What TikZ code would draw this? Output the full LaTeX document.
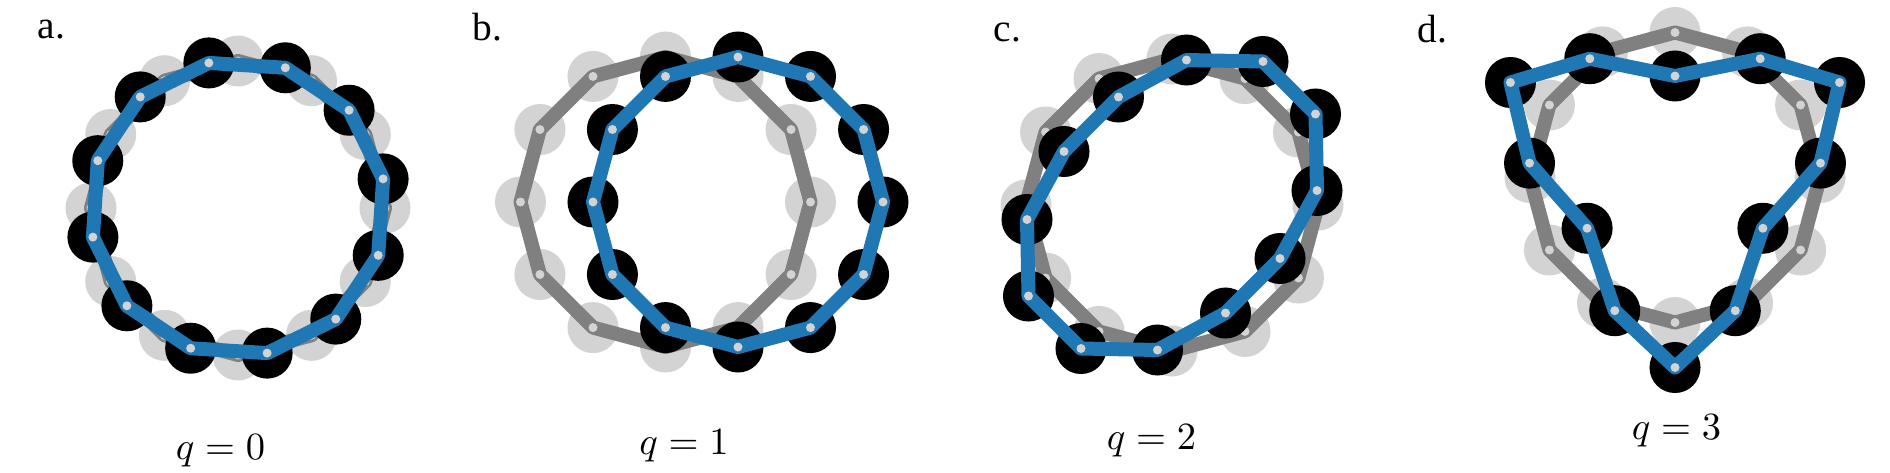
\documentclass[tikz,border=0pt]{standalone}
\usepackage{fontspec}
\newfontfamily\lettfont{Liberation Serif}
\definecolor{ringblue}{HTML}{1F77B4}
\definecolor{ringgray}{HTML}{808080}
\definecolor{beadgray}{HTML}{D3D3D3}
\begin{document}
\begin{tikzpicture}[x=0.01cm,y=-0.01cm,
  graybead/.style={fill=beadgray},
  blackbead/.style={fill=black},
  grayring/.style={draw=ringgray,line width=0.14cm,line join=round},
  bluering/.style={draw=ringblue,line width=0.14cm,line join=round},
  dotfill/.style={fill=beadgray},
  panellabel/.style={font=\lettfont\fontsize{11.2}{13}\selectfont,anchor=base west,inner sep=0pt},
  qlabel/.style={font=\fontsize{11.2}{13}\selectfont,anchor=base,inner sep=0pt}]
\useasboundingbox (0,0) rectangle (1890,472);
\def\rb{0.255cm}
\def\rd{0.045cm}
% ---------- coordinates ----------
\foreach \k in {1,...,12}{
  % panel a
  \coordinate (ag\k) at ({238+147*cos(30*\k)},{208-147*sin(30*\k)});
  \coordinate (ab\k) at ({238+148*cos(30*\k+11.35)},{208-148*sin(30*\k+11.35)});
  % panel b
  \coordinate (bg\k) at ({665.5+145*cos(30*\k)},{202-145*sin(30*\k)});
  \coordinate (bb\k) at ({738+145*cos(30*\k)},{202-145*sin(30*\k)});
  % panel c gray
  \coordinate (cg\k) at ({1172+146*cos(30*\k)},{205-146*sin(30*\k)});
  % panel d gray
  \coordinate (dg\k) at ({1675+145*cos(30*\k)},{177.5-145*sin(30*\k)});
}
% panel c blue
\coordinate (cb1) at (1186.5,60);
\coordinate (cb2) at (1263,61.5);
\coordinate (cb3) at (1315.5,114);
\coordinate (cb4) at (1317,190.5);
\coordinate (cb5) at (1280,258.5);
\coordinate (cb6) at (1225.5,313);
\coordinate (cb7) at (1157.5,350);
\coordinate (cb8) at (1081,348.5);
\coordinate (cb9) at (1028.5,296);
\coordinate (cb10) at (1027,219.5);
\coordinate (cb11) at (1064,151.5);
\coordinate (cb12) at (1118.5,97);
% panel d blue
\foreach \j [evaluate=\j as \rot using {-120*\j}, evaluate=\j as \base using {int(4*\j)}] in {0,1,2}{
  \foreach \a/\r [count=\i from 1] in {90/101.5, 54.35/146.2, 30/190, 5.65/146.2}{
    \pgfmathtruncatemacro{\idx}{\base+\i}
    \coordinate (db\idx) at ({1675+\r*cos(\a+\rot)},{177.5-\r*sin(\a+\rot)});
  }
}
% ---------- drawing ----------
\foreach \p in {a,b,c,d}{
  \foreach \k in {1,...,12}{\fill[graybead] (\p g\k) circle[radius=\rb];}
  \draw[grayring] (\p g1) \foreach \k in {2,...,12}{ -- (\p g\k)} -- cycle;
  \foreach \k in {1,...,12}{\fill[dotfill] (\p g\k) circle[radius=\rd];}
  \foreach \k in {1,...,12}{\fill[blackbead] (\p b\k) circle[radius=\rb];}
  \draw[bluering] (\p b1) \foreach \k in {2,...,12}{ -- (\p b\k)} -- cycle;
  \foreach \k in {1,...,12}{\fill[dotfill] (\p b\k) circle[radius=\rd];}
}
% ---------- labels ----------
\node[panellabel] (la) at (37,38) {a.};
\node[panellabel] (lb) at (472,40) {b.};
\node[panellabel] (lc) at (993,41) {c.};
\node[panellabel] (ld) at (1417,42) {d.};
\node[qlabel] (qa) at (220.5,459) {$q=0$};
\node[qlabel] (qb) at (684,454) {$q=1$};
\node[qlabel] (qc) at (1151.5,449) {$q=2$};
\node[qlabel] (qd) at (1676.5,439) {$q=3$};
\end{tikzpicture}
\end{document}
